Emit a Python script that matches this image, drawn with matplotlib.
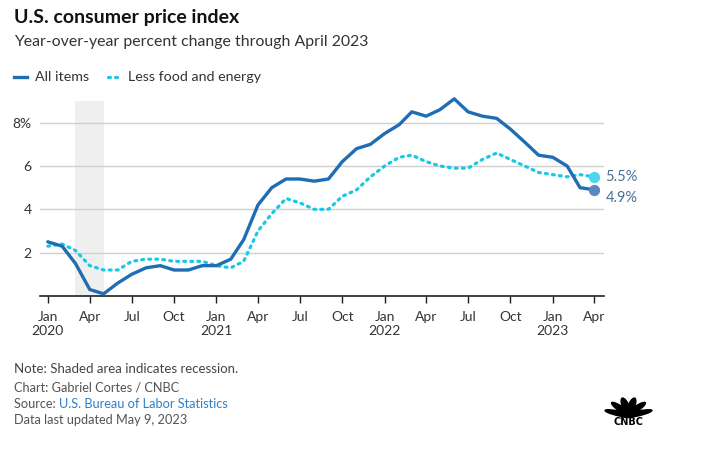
import math

import matplotlib
matplotlib.use("Agg")
import matplotlib.pyplot as plt
import pandas as pd
from matplotlib.patches import Ellipse

# monthly year-over-year % change, Jan 2020 .. Apr 2023
months = pd.date_range("2020-01-01", "2023-04-01", freq="MS")
all_items = [2.5, 2.3, 1.5, 0.3, 0.1, 0.6, 1.0, 1.3, 1.4, 1.2, 1.2, 1.4,
             1.4, 1.7, 2.6, 4.2, 5.0, 5.4, 5.4, 5.3, 5.4, 6.2, 6.8, 7.0,
             7.5, 7.9, 8.5, 8.3, 8.6, 9.1, 8.5, 8.3, 8.2, 7.7, 7.1, 6.5,
             6.4, 6.0, 5.0, 4.9]
core = [2.3, 2.4, 2.1, 1.4, 1.2, 1.2, 1.6, 1.7, 1.7, 1.6, 1.6, 1.6,
        1.4, 1.3, 1.6, 3.0, 3.8, 4.5, 4.3, 4.0, 4.0, 4.6, 4.9, 5.5,
        6.0, 6.4, 6.5, 6.2, 6.0, 5.9, 5.9, 6.3, 6.6, 6.3, 6.0, 5.7,
        5.6, 5.5, 5.6, 5.5]
recession = ("2020-03-01", "2020-05-01")
y_ticks = [2, 4, 6, 8]
y_labels = ["2", "4", "6", "8%"]

BLUE = "#1f6db3"
CYAN = "#17c9e6"
TXT = "#333333"
GRAY = "#555555"

plt.rcParams["font.family"] = ["Lato", "DejaVu Sans"]

fig = plt.figure(figsize=(7.04, 4.51), dpi=100)
ax = fig.add_axes([40 / 704, 1 - 296 / 451, 564 / 704, 195 / 451])

ax.axvspan(pd.Timestamp(recession[0]), pd.Timestamp(recession[1]), color="#efefef", lw=0, zorder=0)
ax.plot(months, all_items, color=BLUE, lw=2.4, solid_joinstyle="round", solid_capstyle="round", zorder=3, clip_on=False)
ax.plot(months, core, color=CYAN, lw=2.3, linestyle=(0, (0.6, 1.6)), dash_capstyle="round", zorder=2, clip_on=False)

ax.scatter([months[-1]], [core[-1]], s=50, color="#4fd4ee", zorder=4, clip_on=False)
ax.scatter([months[-1]], [all_items[-1]], s=50, color="#5b87c2", zorder=4, clip_on=False)
ax.annotate(f"{core[-1]}%", (months[-1], core[-1]), xytext=(8, 0), textcoords="offset points",
            va="center", ha="left", fontsize=10.5, color="#4a7199")
ax.annotate(f"{all_items[-1]}%", (months[-1], all_items[-1]), xytext=(8, -6), textcoords="offset points",
            va="center", ha="left", fontsize=10.5, color="#4a7199")

x0 = months[0] - pd.Timedelta(days=17)
x1 = months[-1] + pd.Timedelta(days=21)
ax.set_xlim(x0, x1)
ax.set_ylim(0, 9.0)

ax.set_yticks(y_ticks)
ax.set_yticklabels(y_labels)
ax.yaxis.grid(True, color="#d0d0d0", lw=1)
ax.set_axisbelow(True)

tick_dates = [d for d in months if d.month in (1, 4, 7, 10)]
ax.set_xticks(tick_dates)
ax.set_xticklabels([d.strftime("%b") + (f"\n{d.year}" if d.month == 1 else "") for d in tick_dates])

for s in ["top", "right", "left"]:
    ax.spines[s].set_visible(False)
ax.spines["bottom"].set_color("#222222")
ax.spines["bottom"].set_linewidth(1.2)
ax.tick_params(axis="x", length=5, width=1, color="#222222", labelsize=10, labelcolor=TXT, pad=6)
ax.tick_params(axis="y", length=0, labelsize=10, labelcolor=TXT, pad=6)

# header
fig.text(14 / 704, 1 - 18 / 451, "U.S. consumer price index", fontsize=14, fontweight="bold", color="#111111", va="center")
fig.text(14 / 704, 1 - 42 / 451, "Year-over-year percent change through April 2023", fontsize=11.4, color=TXT, va="center")

# legend
ly = 1 - 77 / 451
fig.add_artist(plt.Line2D([14 / 704, 27 / 704], [ly, ly], color=BLUE, lw=2.4))
fig.text(35 / 704, ly, "All items", fontsize=10.3, color=TXT, va="center")
fig.add_artist(plt.Line2D([108 / 704, 119 / 704], [ly, ly], color=CYAN, lw=2.3, linestyle=(0, (0.6, 1.6)),
                          dash_capstyle="round"))
fig.text(128 / 704, ly, "Less food and energy", fontsize=10.3, color=TXT, va="center")

# footer
fs = 9.2
fig.text(14 / 704, 1 - 369 / 451, "Note: Shaded area indicates recession.", fontsize=9.5, color="#444444", va="center")
fig.text(14 / 704, 1 - 387 / 451, "Chart: Gabriel Cortes / CNBC", fontsize=fs, color=GRAY, va="center")
t = fig.text(14 / 704, 1 - 404 / 451, "Source: ", fontsize=fs, color=GRAY, va="center")
fig.canvas.draw()
bb = t.get_window_extent()
fig.text(bb.x1 / 704, 1 - 404 / 451, "U.S. Bureau of Labor Statistics", fontsize=fs, color="#2f7fc8", va="center")
fig.text(14 / 704, 1 - 420 / 451, "Data last updated May 9, 2023", fontsize=fs, color=GRAY, va="center")

# little CNBC peacock mark
cx, cy = 628.5, 417
for ang in [-70, -42, -14, 14, 42, 70]:
    r = 10
    ex = cx + r * math.sin(math.radians(ang))
    ey = cy - r * math.cos(math.radians(ang))
    fig.add_artist(Ellipse((ex / 704, 1 - ey / 451), 7 / 704, 19 / 451, angle=-ang, color="black",
                           transform=fig.transFigure))
fig.text(628.5 / 704, 1 - 422 / 451, "CNBC", fontsize=7, fontweight="heavy", color="black",
         ha="center", va="center", family=["DejaVu Sans"])

fig.savefig("out.png", dpi=100)
